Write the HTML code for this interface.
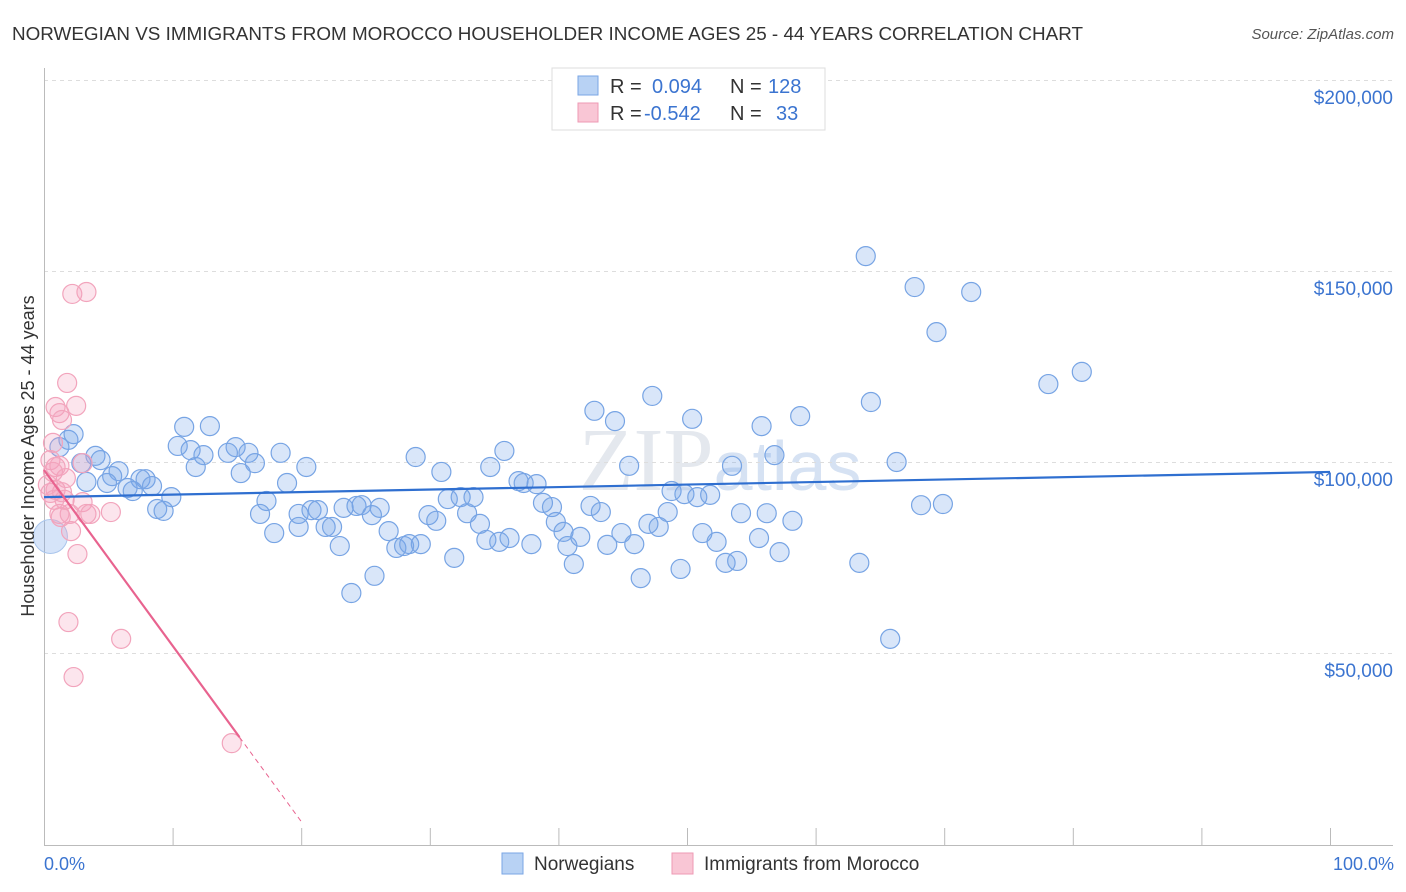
<!DOCTYPE html>
<html><head><meta charset="utf-8"><style>
body{margin:0;background:#fff;font-family:"Liberation Sans",sans-serif}
svg{display:block}
</style></head><body>
<svg id="chart" width="1406" height="892">
<text x="12" y="40" font-size="18.5" fill="#333" textLength="1071" lengthAdjust="spacingAndGlyphs">NORWEGIAN VS IMMIGRANTS FROM MOROCCO HOUSEHOLDER INCOME AGES 25 - 44 YEARS CORRELATION CHART</text>
<text x="1394" y="39" font-size="15" fill="#555" font-style="italic" text-anchor="end">Source: ZipAtlas.com</text>
<text x="720" y="490" font-size="90" fill="#e4e8ee" text-anchor="middle" font-family="Liberation Serif,serif">ZIP<tspan fill="#d6e2f3" font-family="Liberation Sans,sans-serif" font-size="70">atlas</tspan></text>
<g id="grid"></g><g id="axes"></g><g id="pts"></g><g id="lines"></g>
<text transform="translate(34,456) rotate(-90)" font-size="18" fill="#333" text-anchor="middle">Householder Income Ages 25 - 44 years</text>
<text x="44" y="870" font-size="18" fill="#3b74d0">0.0%</text>
<text x="1394" y="870" font-size="18" fill="#3b74d0" text-anchor="end">100.0%</text>
<g>
<rect x="552" y="68" width="273" height="62" fill="#fff" stroke="#ddd"/>
<rect x="578" y="76" width="20" height="19" fill="#b8d2f4" stroke="#7aa6e4"/>
<rect x="578" y="103" width="20" height="19" fill="#f9c6d5" stroke="#ee9ab4"/>
<text x="610" y="93" font-size="20" fill="#333">R = <tspan fill="#3b74d0" x="652">0.094</tspan><tspan x="730">N = </tspan><tspan fill="#3b74d0" x="768">128</tspan></text>
<text x="610" y="120" font-size="20" fill="#333">R = <tspan fill="#3b74d0" x="644">-0.542</tspan><tspan x="730">N = </tspan><tspan fill="#3b74d0" x="776">33</tspan></text>
</g>
<g>
<rect x="502" y="853" width="21" height="21" fill="#b8d2f4" stroke="#7aa6e4"/>
<text x="534" y="870" font-size="19" fill="#333">Norwegians</text>
<rect x="672" y="853" width="21" height="21" fill="#f9c6d5" stroke="#ee9ab4"/>
<text x="704" y="870" font-size="19" fill="#333">Immigrants from Morocco</text>
</g>
</svg>
<script>
const yTicks=[50,100,150,200];
const yTickLabels=["$50,000","$100,000","$150,000","$200,000"];
const xTicks=[0,10,20,30,40,50,60,70,80,90,100];
const bluePx=[[866,256],[915,287],[971,292],[936,332],[1049,384],[1082,372],[871,402],[652,396],[594,411],[615,421],[692,419],[800,416],[761,426],[184,427],[210,426],[68,440],[74,434],[60,447],[95,456],[178,446],[190,450],[236,447],[204,455],[228,453],[248,453],[281,453],[416,457],[505,451],[629,466],[732,466],[774,455],[897,462],[100,460],[81,463],[196,467],[241,473],[255,463],[306,467],[441,472],[490,467],[119,471],[112,476],[140,479],[87,482],[107,483],[128,488],[145,479],[152,486],[133,491],[171,497],[266,501],[287,483],[157,509],[164,511],[260,514],[274,533],[299,514],[312,510],[318,510],[344,508],[357,506],[362,505],[380,508],[372,515],[325,527],[332,527],[340,546],[298,527],[389,531],[396,548],[404,546],[409,544],[421,544],[428,515],[436,521],[448,499],[461,497],[474,497],[467,513],[480,524],[486,540],[499,542],[510,538],[531,544],[518,481],[524,483],[537,484],[543,503],[552,507],[556,522],[564,532],[568,546],[574,564],[580,537],[590,506],[601,512],[621,533],[607,545],[634,544],[641,578],[648,524],[659,527],[668,512],[671,491],[685,494],[697,497],[710,495],[680,569],[702,533],[717,542],[726,563],[737,561],[741,513],[759,538],[767,513],[779,552],[792,521],[351,593],[375,576],[454,558],[859,563],[890,639],[921,505],[943,504]];
const pinkPx=[[72,294],[86,292],[67,383],[55,407],[76,406],[59,413],[62,420],[53,443],[50,460],[55,467],[60,466],[83,463],[53,472],[66,478],[56,490],[62,492],[83,502],[86,514],[90,514],[59,514],[70,514],[111,512],[71,531],[78,554],[69,622],[121,639],[74,677],[232,743],[50,493],[54,500],[65,500],[48,485],[61,517]];
// data arrays (x in %, y in $k)
const blueX=bluePx.map(p=>+((p[0]-44)/12.86).toFixed(1));
const blueY=bluePx.map(p=>+((844-p[1])/3.82).toFixed(1));
const pinkX=pinkPx.map(p=>+((p[0]-44)/12.86).toFixed(1));
const pinkY=pinkPx.map(p=>+((844-p[1])/3.82).toFixed(1));
const blueTrend=[90.8,97.4];
const pinkTrend=[97.9,-4.6];
const X=v=>44+v*12.86, Y=v=>844-v*3.82;
const NS="http://www.w3.org/2000/svg";
function mk(t,a,p){const e=document.createElementNS(NS,t);for(const k in a)e.setAttribute(k,a[k]);p.appendChild(e);return e;}
const grid=document.getElementById('grid'),axes=document.getElementById('axes');
yTicks.forEach((t,i)=>{
 const g=mk('line',{x1:44,x2:1393,y1:Y(t)+0.5,y2:Y(t)+0.5,stroke:'#ddd','stroke-dasharray':'4,4'},grid);
 
 
 const l=mk('text',{x:1393,y:Y(t)+24,'font-size':19,fill:'#3b74d0','text-anchor':'end'},grid);
 l.textContent=yTickLabels[i];
 
 
});
mk('line',{x1:44.5,x2:44.5,y1:68,y2:845,stroke:'#bbb'},axes);
mk('line',{x1:44,x2:1393,y1:845.5,y2:845.5,stroke:'#bbb'},axes);
xTicks.forEach(t=>{const k=mk('line',{x1:X(t)+0.5,x2:X(t)+0.5,y1:828,y2:845,stroke:'#bbb'},axes);
 
 });
const pts=document.getElementById('pts');
blueX.forEach((x,i)=>{const c=mk('circle',{cx:X(x),cy:Y(blueY[i]),r:9.5,fill:'rgba(120,165,235,0.28)',stroke:'#77a4e4','stroke-width':1.2},pts);
 
 });
const big=mk('circle',{cx:X(0.5),cy:Y(80.5),r:17,fill:'rgba(120,165,235,0.3)',stroke:'#a9c5ec'},pts);


pinkX.forEach((x,i)=>{const c=mk('circle',{cx:X(x),cy:Y(pinkY[i]),r:9.5,fill:'rgba(245,160,190,0.28)',stroke:'#f2a4bc','stroke-width':1.2},pts);
 
 });
const lines=document.getElementById('lines');
const bl=mk('line',{x1:X(0),y1:Y(blueTrend[0]),x2:X(100),y2:Y(blueTrend[1]),stroke:'#2f6fd0','stroke-width':2.2},lines);


const pf=x=>pinkTrend[0]+pinkTrend[1]*x;
const pl=mk('line',{x1:X(0),y1:Y(pf(0)),x2:X(15.2),y2:Y(pf(15.2)),stroke:'#e8638f','stroke-width':2.2},lines);


const pd=mk('line',{x1:X(15.2),y1:Y(pf(15.2)),x2:X(20),y2:Y(pf(20)),stroke:'#e8638f','stroke-width':1,'stroke-dasharray':'5,4'},lines);


</script>
</body></html>
